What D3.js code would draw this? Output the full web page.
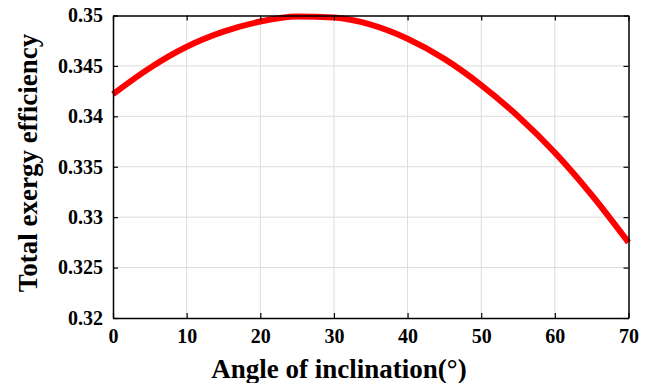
<!DOCTYPE html>
<html>
<head>
<meta charset="utf-8">
<script src="https://cdn.jsdelivr.net/npm/d3@7"></script>
<style>
  body { margin: 0; background: #fff; }
</style>
</head>
<body>
<svg id="chart" width="647" height="383"></svg>
<script>
// angle of inclination (deg) and total exergy efficiency
var angles = [0, 5, 10, 15, 20, 25, 30, 35, 40, 45, 50, 55, 60, 65, 70];
var efficiency = [0.3422, 0.3448, 0.3469, 0.3484, 0.3494, 0.3499, 0.3498, 0.3491,
                  0.3477, 0.3457, 0.3431, 0.3400, 0.3364, 0.3322, 0.3275];
var xTicks = [0, 10, 20, 30, 40, 50, 60, 70];
var yTicks = [0.32, 0.325, 0.33, 0.335, 0.34, 0.345, 0.35];

var serif = "'Liberation Serif', 'Times New Roman', serif";
var margin = {top: 15.5, right: 18.5, bottom: 65, left: 113};
var W = 647, H = 383;
var w = W - margin.left - margin.right,
    h = H - margin.top - margin.bottom;

var svg = d3.select("#chart");
var g = svg.append("g").attr("transform", "translate(" + margin.left + "," + margin.top + ")");

var x = d3.scaleLinear().domain([0, 70]).range([0, w]);
var y = d3.scaleLinear().domain([0.32, 0.35]).range([h, 0]);

// grid
g.append("g").selectAll("line").data(xTicks.slice(1, -1)).join("line")
    .attr("x1", d => x(d)).attr("x2", d => x(d))
    .attr("y1", 0).attr("y2", h)
    .attr("stroke", "#dcdcdc").attr("stroke-width", 1);
g.append("g").selectAll("line").data(yTicks.slice(1, -1)).join("line")
    .attr("y1", d => y(d)).attr("y2", d => y(d))
    .attr("x1", 0).attr("x2", w)
    .attr("stroke", "#dcdcdc").attr("stroke-width", 1);

// the curve
var line = d3.line()
    .x((d, i) => x(angles[i]))
    .y(d => y(d))
    .curve(d3.curveMonotoneX);
g.append("path")
    .datum(efficiency)
    .attr("d", line)
    .attr("fill", "none")
    .attr("stroke", "#ff0000")
    .attr("stroke-width", 6)
    .attr("stroke-linecap", "butt");

// axes, ticks inside, box all round
var fmtY = d => String(+d.toFixed(3));
var xb = g.append("g").attr("transform", "translate(0," + h + ")")
    .call(d3.axisBottom(x).tickValues(xTicks).tickSizeInner(-5).tickSizeOuter(0).tickPadding(11));
var xt = g.append("g")
    .call(d3.axisTop(x).tickValues(xTicks).tickSizeInner(-5).tickSizeOuter(0).tickFormat(""));
var yl = g.append("g")
    .call(d3.axisLeft(y).tickValues(yTicks).tickSizeInner(-5).tickSizeOuter(0).tickPadding(10).tickFormat(fmtY));
var yr = g.append("g").attr("transform", "translate(" + w + ",0)")
    .call(d3.axisRight(y).tickValues(yTicks).tickSizeInner(-5).tickSizeOuter(0).tickFormat(""));

[xb, xt, yl, yr].forEach(a => {
  a.attr("font-size", 20).attr("font-family", serif).attr("font-weight", "bold");
  a.selectAll("path").attr("stroke", "#000").attr("stroke-width", 1.5);
  a.selectAll("line").attr("stroke", "#000").attr("stroke-width", 1.2);
  a.selectAll("text").attr("fill", "#000");
});

// axis titles
svg.append("text")
    .attr("x", 339)
    .attr("y", 378)
    .attr("text-anchor", "middle")
    .attr("font-family", serif).attr("font-weight", "bold").attr("font-size", 27)
    .text("Angle of inclination(°)");

svg.append("text")
    .attr("transform", "translate(36.5,163) rotate(-90)")
    .attr("text-anchor", "middle")
    .attr("font-family", serif).attr("font-weight", "bold").attr("font-size", 27)
    .text("Total exergy efficiency");
</script>
</body>
</html>
